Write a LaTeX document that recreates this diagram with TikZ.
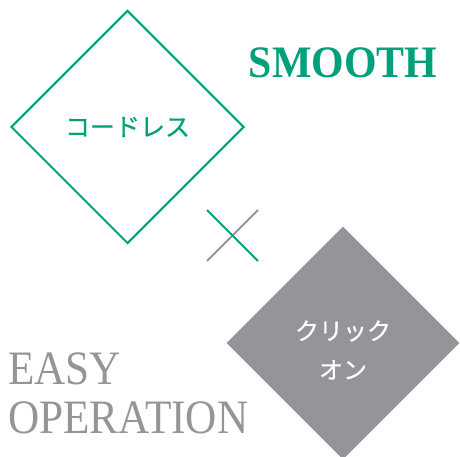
\documentclass[tikz,border=0pt]{standalone}
\usepackage{fontspec}
\setmainfont{Liberation Serif}
\newfontfamily\jpfont[FakeBold=0.6]{Noto Sans CJK JP}
\newfontfamily\headfont[FakeStretch=0.93]{Liberation Serif}
\newfontfamily\subfont[FakeStretch=0.90]{Liberation Serif}
\usetikzlibrary{shapes.geometric}
\definecolor{smoothgreen}{RGB}{0,160,122}
\definecolor{easygray}{RGB}{147,149,152}
\tikzset{
    x=1pt, y=-1pt, % one unit per pixel, y runs downwards
    every node/.style={inner sep=0pt}, % no padding round the texts
    tile/.style={diamond, aspect=1, minimum width=233pt, minimum height=233pt, align=center}, % the two squares on their tips
}

\begin{document}
\begin{tikzpicture}[
        outlineTile/.style={tile, draw=smoothgreen, line width=2pt, text=smoothgreen},
        solidTile/.style={tile, fill=easygray},
        crossLine/.style={line width=2pt},
        wordGray/.style={anchor=base west, text=easygray, font=\subfont\fontsize{48}{48}\selectfont},
    ]
    \useasboundingbox (0,0) rectangle (460,457);
    \node[outlineTile, font=\jpfont\fontsize{25}{25}\selectfont] (cordless) at (127.5,127) {コードレス};
    \node[solidTile] (clickon) at (343,343) {};
    \node[align=center, text=white, font=\jpfont\fontsize{24}{39}\selectfont] (clickonText) at ([yshift=-7pt]clickon.center) {クリック\\オン};
    \node[anchor=base, text=smoothgreen, font=\headfont\bfseries\fontsize{45}{45}\selectfont] (smooth) at (343,78) {SMOOTH};
    \node[wordGray] (easy) at (8,384) {EASY};
    \node[wordGray] (operation) at (8,433) {OPERATION};
    \coordinate (xa) at (207,210);
    \coordinate (xb) at (258,261);
    \coordinate (xc) at (207,261);
    \coordinate (xd) at (258,210);
    \draw[crossLine, easygray] (xc) -- (xd);
    \draw[crossLine, smoothgreen] (xa) -- (xb);
\end{tikzpicture}
\end{document}
